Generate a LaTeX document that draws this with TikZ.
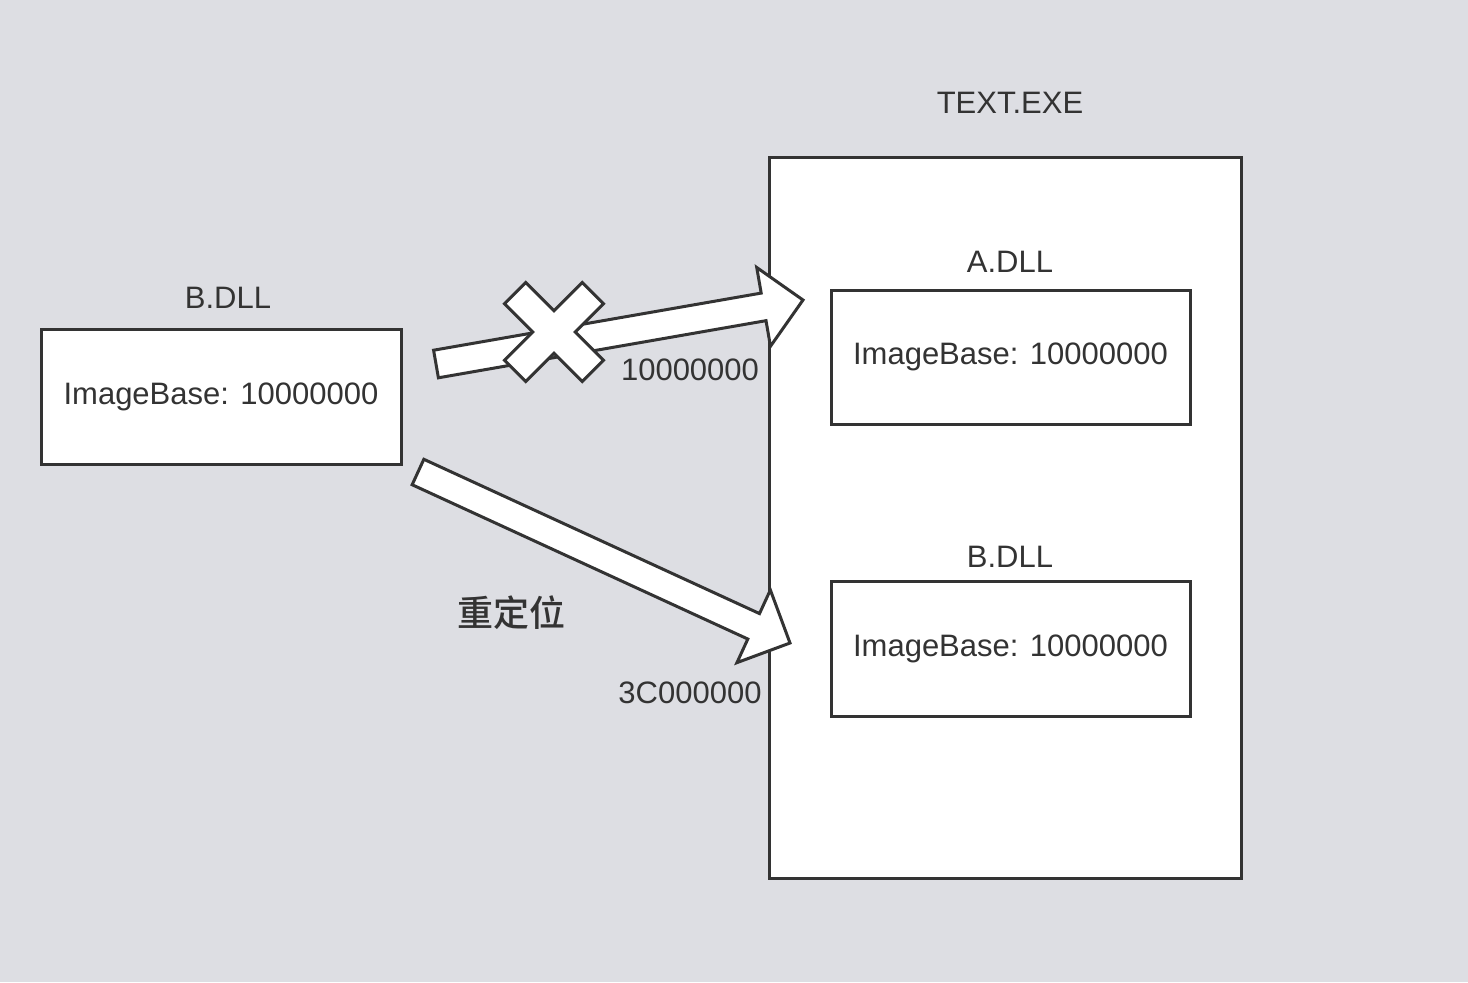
\documentclass[tikz,border=0pt]{standalone}
\usepackage{fontspec}
\setmainfont{Liberation Sans}
\newfontfamily\cjk{Noto Sans CJK SC Medium}
\usetikzlibrary{calc}
\definecolor{bg}{RGB}{221,222,227}
\definecolor{ink}{RGB}{51,51,51}
\newcommand\blockarrow[2]{%
  \coordinate (hb) at ($(#2)!20pt!(#1)$);
  \draw[blk] ($(#1)!7pt!90:(#2)$) -- ($(hb)!7pt!-90:(#1)$) -- ($(hb)!20pt!-90:(#1)$) -- (#2)
    -- ($(hb)!20pt!90:(#1)$) -- ($(hb)!7pt!90:(#1)$) -- ($(#1)!7pt!-90:(#2)$) -- cycle;
}
\begin{document}
\begin{tikzpicture}[x=0.5pt,y=-0.5pt,
  box/.style={draw=ink, line width=1.5pt, fill=white, inner sep=0pt},
  lbl/.style={text=ink, font=\fontsize{15.5}{18}\selectfont, inner sep=0pt},
  blk/.style={draw=ink, line width=1.5pt, fill=white, line join=miter}]
\fill[bg] (0,0) rectangle (1468,982);
\useasboundingbox (0,0) rectangle (1468,982);

% left B.DLL
\node[box, lbl, minimum width=180pt, minimum height=67.5pt] (bleft) at (221,396.5) {ImageBase: 10000000};
\node[lbl] (bleftlbl) at (228,298) {B.DLL};

% TEXT.EXE
\node[box, minimum width=236pt, minimum height=360.5pt] (exe) at (1005,517.5) {};
\node[lbl] (exelbl) at (1010,103) {TEXT.EXE};

\node[box, lbl, minimum width=179.5pt, minimum height=67pt] (adll) at (1010.5,357) {ImageBase: 10000000};
\node[lbl] (adlllbl) at (1010,262) {A.DLL};

\node[box, lbl, minimum width=179.5pt, minimum height=67.5pt] (bdll) at (1010.5,648.5) {ImageBase: 10000000};
\node[lbl] (bdlllbl) at (1010,557) {B.DLL};

% labels
\node[lbl] (l1) at (690,370) {10000000};
\node[lbl] (l2) at (690,693) {3C000000};
\node[text=ink, inner sep=0pt, font=\cjk\fontsize{18}{20}\selectfont] (l3) at (511,613) {重定位};

% arrows
\coordinate (a1t) at (436,364);
\coordinate (a1h) at (803,300);
\coordinate (a2t) at (418,472);
\coordinate (a2h) at (790,643);
\blockarrow{a1t}{a1h}
\blockarrow{a2t}{a2h}

% cross
\begin{scope}[shift={(554,332)}, rotate=45]
\draw[blk] (-15,-55) -- (15,-55) -- (15,-15) -- (55,-15) -- (55,15) -- (15,15) -- (15,55)
  -- (-15,55) -- (-15,15) -- (-55,15) -- (-55,-15) -- (-15,-15) -- cycle;
\end{scope}
\end{tikzpicture}
\end{document}
